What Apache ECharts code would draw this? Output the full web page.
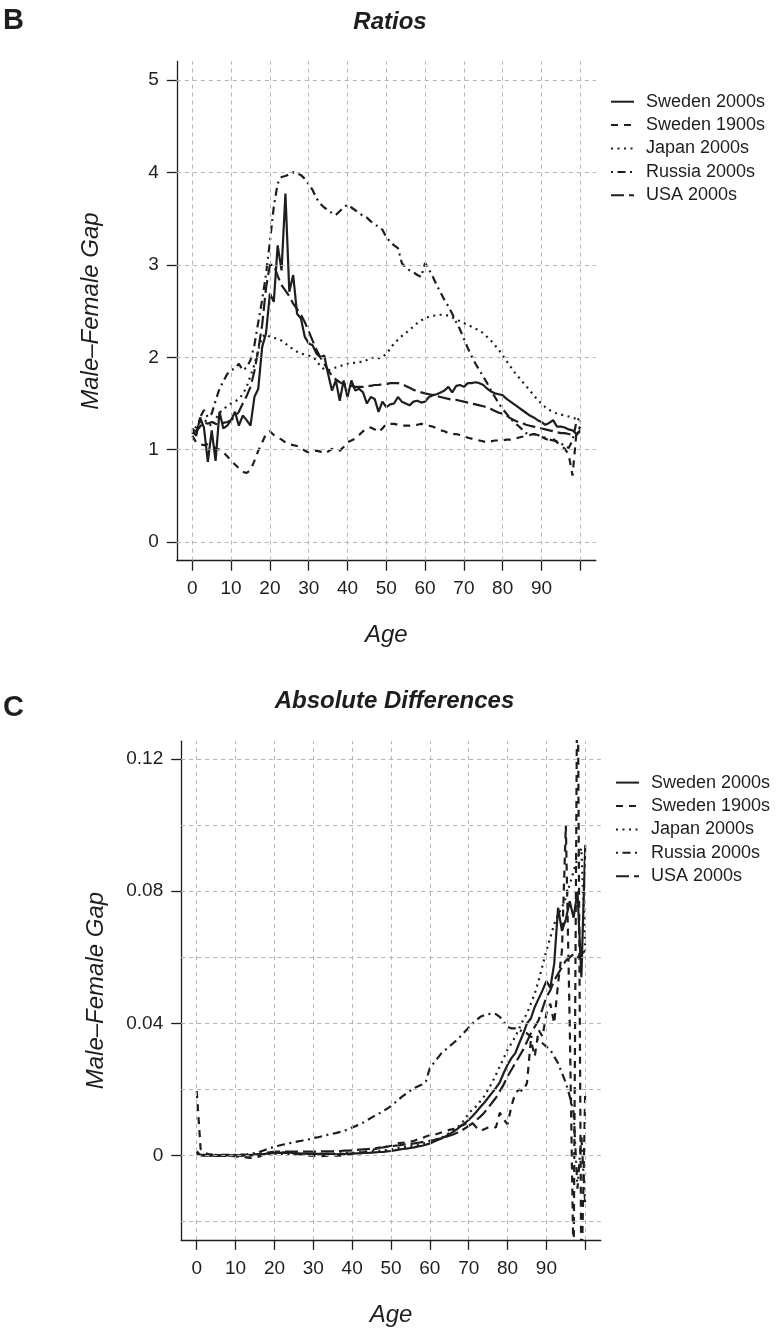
<!DOCTYPE html>
<html>
<head>
<meta charset="utf-8">
<title>Male-Female Gap</title>
<script src="https://cdn.jsdelivr.net/npm/echarts@6/dist/echarts.min.js"></script>
<style>
  html, body { margin: 0; padding: 0; background: #fff; }
  #chart { width: 779px; height: 1332px; }
</style>
</head>
<body>
<div id="chart"></div>
<script>
// ages 0..100 on the x axis
const ages = []
for (let a = 0; a <= 100; a++) ages.push(a)

const seriesNames = ['Sweden 2000s', 'Sweden 1900s', 'Japan 2000s', 'Russia 2000s', 'USA 2000s']

// panel B: ratios
const ratioSweden2000 = [
  1.21, 1.15, 1.35, 1.24, 0.87, 1.21, 0.88, 1.41, 1.23, 1.26,
  1.32, 1.41, 1.26, 1.37, 1.32, 1.26, 1.57, 1.66, 2.11, 2.26,
  2.69, 2.60, 3.21, 2.94, 3.77, 2.71, 2.89, 2.47, 2.42, 2.22,
  2.15, 2.13, 2.04, 2.00, 2.02, 1.82, 1.64, 1.75, 1.53, 1.75,
  1.57, 1.75, 1.64, 1.66, 1.62, 1.50, 1.57, 1.55, 1.41, 1.52,
  1.46, 1.49, 1.50, 1.57, 1.52, 1.50, 1.48, 1.52, 1.53, 1.51,
  1.52, 1.57, 1.59, 1.60, 1.62, 1.64, 1.68, 1.62, 1.69, 1.70,
  1.68, 1.72, 1.72, 1.73, 1.72, 1.70, 1.66, 1.63, 1.61, 1.60,
  1.59, 1.55, 1.52, 1.49, 1.46, 1.43, 1.40, 1.37, 1.35, 1.32,
  1.30, 1.27, 1.29, 1.32, 1.25, 1.25, 1.24, 1.22, 1.21, 1.17, 1.21
]
const ratioSweden1900 = [
  1.15, 1.08, 1.06, 1.05, 1.06, 1.04, 1.02, 1.00, 0.97, 0.93,
  0.88, 0.84, 0.80, 0.76, 0.75, 0.78, 0.88, 0.99, 1.08, 1.17,
  1.20, 1.16, 1.13, 1.11, 1.08, 1.06, 1.05, 1.04, 1.02, 0.99,
  0.97, 0.98, 0.99, 0.98, 0.96, 0.98, 1.01, 1.00, 0.99, 1.03,
  1.08, 1.10, 1.12, 1.16, 1.20, 1.23, 1.24, 1.22, 1.19, 1.23,
  1.28, 1.28, 1.28, 1.27, 1.26, 1.26, 1.26, 1.27, 1.27, 1.28,
  1.27, 1.26, 1.25, 1.23, 1.21, 1.20, 1.18, 1.17, 1.17, 1.16,
  1.15, 1.13, 1.12, 1.11, 1.10, 1.09, 1.08, 1.09, 1.10, 1.10,
  1.10, 1.11, 1.11, 1.12, 1.13, 1.14, 1.15, 1.16, 1.17, 1.16,
  1.14, 1.12, 1.10, 1.12, 1.08, 1.05, 1.01, 0.95, 0.72, 1.18, 1.25
]
const ratioJapan2000 = [
  1.17, 1.25, 1.30, 1.32, 1.30, 1.25, 1.33, 1.40, 1.44, 1.47,
  1.50, 1.52, 1.55, 1.60, 1.68, 1.80, 1.92, 2.08, 2.22, 2.25,
  2.22, 2.21, 2.20, 2.18, 2.15, 2.11, 2.09, 2.06, 2.04, 2.03,
  2.02, 2.00, 1.97, 1.90, 1.87, 1.86, 1.87, 1.89, 1.90, 1.92,
  1.93, 1.94, 1.94, 1.95, 1.95, 1.97, 1.99, 2.00, 1.99, 2.00,
  2.04, 2.09, 2.15, 2.19, 2.23, 2.26, 2.30, 2.33, 2.37, 2.40,
  2.42, 2.44, 2.45, 2.45, 2.46, 2.46, 2.45, 2.43, 2.41, 2.39,
  2.37, 2.35, 2.33, 2.31, 2.29, 2.26, 2.22, 2.18, 2.13, 2.08,
  2.02, 1.96, 1.90, 1.84, 1.79, 1.74, 1.69, 1.64, 1.59, 1.54,
  1.50, 1.46, 1.43, 1.41, 1.39, 1.38, 1.37, 1.36, 1.35, 1.33, 1.31
]
const ratioRussia2000 = [
  1.23, 1.17, 1.35, 1.43, 1.35, 1.39, 1.53, 1.66, 1.74, 1.82,
  1.86, 1.88, 1.93, 1.86, 1.89, 1.97, 2.13, 2.38, 2.62, 2.90,
  3.25, 3.63, 3.88, 3.95, 3.96, 3.98, 4.00, 3.99, 3.97, 3.93,
  3.87, 3.81, 3.72, 3.66, 3.62, 3.59, 3.56, 3.54, 3.58, 3.62,
  3.65, 3.62, 3.59, 3.56, 3.53, 3.51, 3.47, 3.44, 3.41, 3.38,
  3.30, 3.25, 3.21, 3.18, 3.02, 2.97, 2.94, 2.92, 2.89, 2.87,
  3.02, 2.95, 2.87, 2.78, 2.70, 2.62, 2.55, 2.47, 2.38, 2.30,
  2.20, 2.10, 2.01, 1.93, 1.86, 1.79, 1.72, 1.64, 1.57, 1.50,
  1.44, 1.39, 1.34, 1.29, 1.26, 1.22, 1.18, 1.17, 1.17, 1.16,
  1.14, 1.13, 1.11, 1.10, 1.09, 1.07, 1.04, 1.02, 1.10, 1.30, 1.36
]
const ratioUSA2000 = [
  1.22, 1.20, 1.25, 1.30, 1.28, 1.30, 1.28, 1.27, 1.29, 1.30,
  1.32, 1.36, 1.41, 1.50, 1.58, 1.68, 1.85, 2.08, 2.35, 2.75,
  3.00, 3.00, 2.88, 2.78, 2.72, 2.66, 2.58, 2.52, 2.46, 2.38,
  2.28, 2.18, 2.08, 2.00, 1.93, 1.86, 1.80, 1.76, 1.73, 1.71,
  1.70, 1.69, 1.68, 1.68, 1.68, 1.69, 1.69, 1.70, 1.70, 1.71,
  1.71, 1.72, 1.72, 1.72, 1.71, 1.69, 1.67, 1.65, 1.63, 1.62,
  1.61, 1.60, 1.59, 1.58, 1.57, 1.56, 1.55, 1.54, 1.54, 1.53,
  1.52, 1.51, 1.50, 1.49, 1.48, 1.47, 1.46, 1.44, 1.42, 1.40,
  1.39, 1.37, 1.34, 1.32, 1.30, 1.29, 1.27, 1.26, 1.25, 1.24,
  1.23, 1.22, 1.21, 1.20, 1.19, 1.18, 1.18, 1.17, 1.16, 1.16, 1.20
]

// panel C: absolute differences
const diffSweden2000 = [
  0.0008, 0.0002, 0.0001, 0.0001, 0.0000, 0.0001, 0.0000, 0.0001, 0.0001, 0.0001,
  0.0001, 0.0001, 0.0001, 0.0001, 0.0001, 0.0002, 0.0003, 0.0004, 0.0006, 0.0007,
  0.0008, 0.0008, 0.0009, 0.0008, 0.0010, 0.0007, 0.0007, 0.0006, 0.0006, 0.0005,
  0.0005, 0.0005, 0.0005, 0.0005, 0.0005, 0.0005, 0.0004, 0.0005, 0.0005, 0.0006,
  0.0006, 0.0007, 0.0007, 0.0008, 0.0008, 0.0009, 0.0010, 0.0011, 0.0011, 0.0013,
  0.0014, 0.0016, 0.0018, 0.0020, 0.0021, 0.0023, 0.0025, 0.0028, 0.0030, 0.0033,
  0.0037, 0.0042, 0.0047, 0.0052, 0.0058, 0.0065, 0.0072, 0.0080, 0.0090, 0.0098,
  0.0108, 0.0120, 0.0133, 0.0147, 0.0160, 0.0175, 0.0190, 0.0205, 0.0222, 0.0250,
  0.0275, 0.0295, 0.0310, 0.0340, 0.0368, 0.0400, 0.0415, 0.0450, 0.0475, 0.0500,
  0.0528, 0.0508, 0.0580, 0.0750, 0.0680, 0.0715, 0.0770, 0.0720, 0.0800, 0.0540, 0.0940
]
const diffSweden1900 = [
  0.0195, 0.0020, 0.0008, 0.0005, 0.0003, 0.0002, 0.0001, 0.0000, 0.0000, -0.0001,
  -0.0002, -0.0003, -0.0004, -0.0006, -0.0007, -0.0006, -0.0003, 0.0002, 0.0007, 0.0010,
  0.0012, 0.0011, 0.0010, 0.0009, 0.0008, 0.0007, 0.0005, 0.0003, 0.0002, 0.0000,
  -0.0001, -0.0002, -0.0002, -0.0001, 0.0000, -0.0001, 0.0001, 0.0000, 0.0002, 0.0004,
  0.0006, 0.0008, 0.0009, 0.0011, 0.0014, 0.0017, 0.0020, 0.0024, 0.0025, 0.0027,
  0.0030, 0.0034, 0.0038, 0.0039, 0.0040, 0.0042, 0.0045, 0.0050, 0.0053, 0.0058,
  0.0062, 0.0062, 0.0066, 0.0070, 0.0074, 0.0078, 0.0080, 0.0085, 0.0090, 0.0095,
  0.0100, 0.0098, 0.0085, 0.0075, 0.0080, 0.0085, 0.0088, 0.0085, 0.0130, 0.0110,
  0.0095, 0.0150, 0.0190, 0.0200, 0.0195, 0.0220, 0.0350, 0.0300, 0.0380, 0.0360,
  0.0430, 0.0460, 0.0400, 0.0520, 0.0620, 0.1000, 0.0400, -0.0350, 0.1600, -0.0400, 0.0200
]
const diffJapan2000 = [
  0.0005, 0.0001, 0.0001, 0.0000, 0.0000, 0.0000, 0.0000, 0.0000, 0.0000, 0.0000,
  0.0000, 0.0000, 0.0001, 0.0001, 0.0001, 0.0002, 0.0003, 0.0004, 0.0005, 0.0005,
  0.0005, 0.0005, 0.0005, 0.0005, 0.0005, 0.0005, 0.0005, 0.0005, 0.0005, 0.0005,
  0.0005, 0.0005, 0.0005, 0.0005, 0.0006, 0.0006, 0.0006, 0.0007, 0.0007, 0.0008,
  0.0008, 0.0009, 0.0010, 0.0011, 0.0012, 0.0013, 0.0014, 0.0015, 0.0016, 0.0017,
  0.0019, 0.0021, 0.0023, 0.0025, 0.0027, 0.0029, 0.0031, 0.0033, 0.0036, 0.0039,
  0.0042, 0.0046, 0.0050, 0.0055, 0.0061, 0.0068, 0.0076, 0.0085, 0.0095, 0.0110,
  0.0128, 0.0140, 0.0150, 0.0165, 0.0180, 0.0200, 0.0220, 0.0245, 0.0270, 0.0295,
  0.0320, 0.0340, 0.0360, 0.0385, 0.0410, 0.0430, 0.0460, 0.0490, 0.0530, 0.0575,
  0.0620, 0.0660, 0.0700, 0.0730, 0.0750, 0.0780, 0.0820, 0.0860, 0.0900, 0.0930, 0.0620
]
const diffRussia2000 = [
  0.0012, 0.0004, 0.0002, 0.0002, 0.0002, 0.0002, 0.0002, 0.0002, 0.0002, 0.0002,
  0.0002, 0.0003, 0.0003, 0.0004, 0.0006, 0.0008, 0.0011, 0.0015, 0.0019, 0.0023,
  0.0026, 0.0030, 0.0033, 0.0035, 0.0038, 0.0040, 0.0043, 0.0045, 0.0048, 0.0050,
  0.0053, 0.0055, 0.0058, 0.0061, 0.0064, 0.0066, 0.0069, 0.0072, 0.0075, 0.0080,
  0.0085, 0.0090, 0.0095, 0.0101, 0.0108, 0.0115, 0.0122, 0.0128, 0.0135, 0.0142,
  0.0150, 0.0160, 0.0170, 0.0180, 0.0188, 0.0197, 0.0205, 0.0210, 0.0215, 0.0225,
  0.0265, 0.0280, 0.0295, 0.0310, 0.0320, 0.0330, 0.0340, 0.0350, 0.0362, 0.0375,
  0.0388, 0.0400, 0.0410, 0.0420, 0.0425, 0.0428, 0.0430, 0.0428, 0.0420, 0.0405,
  0.0390, 0.0385, 0.0385, 0.0380, 0.0375, 0.0370, 0.0360, 0.0355, 0.0350, 0.0340,
  0.0330, 0.0320, 0.0300, 0.0280, 0.0250, 0.0220, 0.0180, 0.0130, -0.0100, 0.0060, -0.0150
]
const diffUSA2000 = [
  0.0012, 0.0001, 0.0001, 0.0001, 0.0000, 0.0000, 0.0000, 0.0000, 0.0000, 0.0000,
  0.0000, 0.0000, 0.0001, 0.0001, 0.0002, 0.0003, 0.0005, 0.0007, 0.0009, 0.0010,
  0.0011, 0.0012, 0.0012, 0.0012, 0.0012, 0.0012, 0.0012, 0.0012, 0.0012, 0.0012,
  0.0012, 0.0012, 0.0013, 0.0013, 0.0013, 0.0013, 0.0014, 0.0014, 0.0015, 0.0015,
  0.0016, 0.0017, 0.0018, 0.0019, 0.0020, 0.0021, 0.0022, 0.0024, 0.0025, 0.0027,
  0.0028, 0.0030, 0.0031, 0.0033, 0.0034, 0.0035, 0.0037, 0.0039, 0.0041, 0.0043,
  0.0045, 0.0047, 0.0050, 0.0053, 0.0056, 0.0060, 0.0064, 0.0069, 0.0075, 0.0082,
  0.0090, 0.0098, 0.0108, 0.0118, 0.0130, 0.0145, 0.0160, 0.0175, 0.0195, 0.0215,
  0.0240, 0.0260, 0.0280, 0.0300, 0.0320, 0.0345, 0.0370, 0.0390, 0.0410, 0.0445,
  0.0480, 0.0500, 0.0530, 0.0550, 0.0570, 0.0590, 0.0600, 0.0610, 0.0600, 0.0610, 0.0620
]

// ticks, labels and grid lines
const xTickValues = [0, 10, 20, 30, 40, 50, 60, 70, 80, 90, 100]
const xLabelValues = [0, 10, 20, 30, 40, 50, 60, 70, 80, 90]
const ratioYLabels = [0, 1, 2, 3, 4, 5]
const ratioGridY = [0, 1, 2, 3, 4, 5]
const diffYLabels = [0, 0.04, 0.08, 0.12]
const diffGridY = [-0.02, 0, 0.02, 0.04, 0.06, 0.08, 0.1, 0.12]

const FONT = '"Liberation Sans", Arial, Helvetica, sans-serif'
const INK = '#1e1e1e'

// R-style line types
const dashOf = {
  'Sweden 2000s': 'solid',
  'Sweden 1900s': [7, 6],
  'Japan 2000s': [2, 4.5],
  'Russia 2000s': [2, 4.5, 8, 4.5],
  'USA 2000s': [13, 5]
}

const xAxisFor = (gridIndex) => ({
  type: 'value',
  gridIndex,
  min: -4,
  max: 104,
  name: 'Age',
  nameLocation: 'middle',
  nameGap: 63,
  nameTextStyle: { fontFamily: FONT, fontSize: 24, fontStyle: 'italic', color: INK, lineHeight: 24 },
  axisLine: { show: true, onZero: false, lineStyle: { color: INK, width: 1.3 } },
  axisTick: { show: true, length: 10, customValues: xTickValues, lineStyle: { color: INK, width: 1.3 } },
  axisLabel: { customValues: xLabelValues, margin: 19, fontFamily: FONT, fontSize: 19, lineHeight: 19, color: INK },
  splitLine: { show: false }
})

const yAxisFor = (gridIndex, min, max, labels) => ({
  type: 'value',
  gridIndex,
  min,
  max,
  name: 'Male\u2013Female Gap',
  nameLocation: 'middle',
  nameGap: 73,
  nameTextStyle: { fontFamily: FONT, fontSize: 24, fontStyle: 'italic', color: INK, lineHeight: 24 },
  axisLine: { show: true, onZero: false, lineStyle: { color: INK, width: 1.3 } },
  axisTick: { show: true, length: 10, customValues: labels, lineStyle: { color: INK, width: 1.3 } },
  axisLabel: { customValues: labels, margin: 18, fontFamily: FONT, fontSize: 19, lineHeight: 19, color: INK },
  splitLine: { show: false }
})

const lineSeries = (name, values, idx) => ({
  name,
  type: 'line',
  xAxisIndex: idx,
  yAxisIndex: idx,
  data: ages.map((a, i) => [a, values[i]]),
  symbol: 'none',
  showSymbol: false,
  clip: true,
  animation: false,
  z: 3,
  lineStyle: { color: INK, width: 2.2, type: dashOf[name], cap: 'butt' },
  emphasis: { disabled: true }
})

// dashed grey grid, drawn as mark lines in axis units
const gridSeries = (idx, yValues) => ({
  type: 'line',
  xAxisIndex: idx,
  yAxisIndex: idx,
  data: [],
  silent: true,
  z: 1,
  markLine: {
    silent: true,
    animation: false,
    symbol: ['none', 'none'],
    label: { show: false },
    lineStyle: { color: '#b4b4b4', type: [4, 4], width: 1 },
    emphasis: { disabled: true },
    data: [
      ...xTickValues.map(v => ({ xAxis: v })),
      ...yValues.map(v => ({ yAxis: v }))
    ]
  }
})

const legendFor = (left, top) => ({
  orient: 'vertical',
  left,
  top,
  padding: 0,
  itemWidth: 23,
  itemHeight: 14,
  itemGap: 5.4,
  itemStyle: { opacity: 0 },
  textStyle: { fontFamily: FONT, fontSize: 18, lineHeight: 18, color: INK, padding: [0, 0, 0, 7] },
  data: seriesNames
})

const ratioValues = [ratioSweden2000, ratioSweden1900, ratioJapan2000, ratioRussia2000, ratioUSA2000]
const diffValues = [diffSweden2000, diffSweden1900, diffJapan2000, diffRussia2000, diffUSA2000]

const textItem = (text, x, y, size, italic, align) => ({
  type: 'text',
  x,
  y,
  style: {
    text,
    fontFamily: FONT,
    fontSize: size,
    fontWeight: 'bold',
    fontStyle: italic ? 'italic' : 'normal',
    fill: INK,
    align: align,
    verticalAlign: 'middle'
  }
})

const chart = echarts.init(document.getElementById('chart'), null, { renderer: 'canvas' })

chart.setOption({
  animation: false,
  backgroundColor: '#fff',
  grid: [
    { left: 176.8, top: 61.4, width: 419, height: 499.3, containLabel: false },
    { left: 181.2, top: 741.2, width: 419.6, height: 498.7, containLabel: false }
  ],
  xAxis: [xAxisFor(0), xAxisFor(1)],
  yAxis: [
    yAxisFor(0, -0.2, 5.2, ratioYLabels),
    yAxisFor(1, -0.0255, 0.1254, diffYLabels)
  ],
  legend: [legendFor(610, 92.7), legendFor(615, 773.6)],
  graphic: [
    textItem('B', 3, 21, 29, false, 'left'),
    textItem('Ratios', 390, 22.5, 24, true, 'center'),
    textItem('C', 3, 708, 29, false, 'left'),
    textItem('Absolute Differences', 394.5, 701, 24, true, 'center')
  ],
  series: [
    gridSeries(0, ratioGridY),
    gridSeries(1, diffGridY),
    ...seriesNames.map((n, i) => lineSeries(n, ratioValues[i], 0)),
    ...seriesNames.map((n, i) => lineSeries(n, diffValues[i], 1))
  ]
})
</script>
</body>
</html>
